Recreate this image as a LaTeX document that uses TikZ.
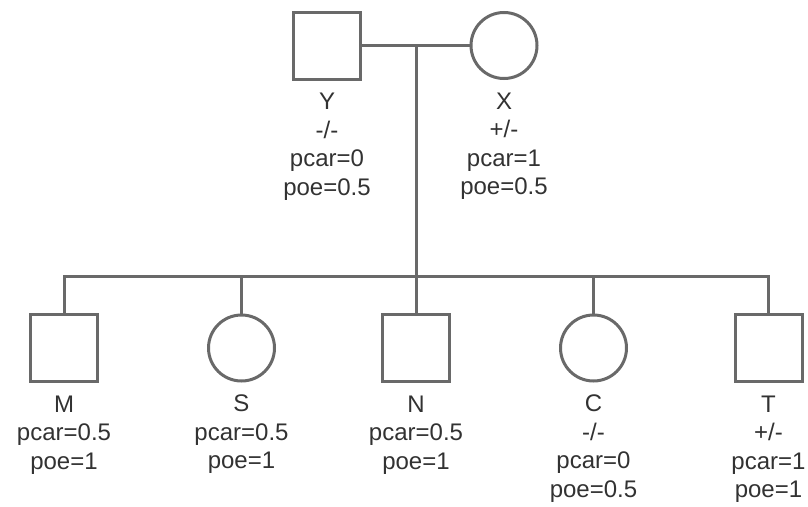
\documentclass[tikz,border=0pt]{standalone}
\usepackage{fontspec}
\setmainfont{Liberation Sans}
\definecolor{linec}{RGB}{105,105,105}
\definecolor{textc}{RGB}{50,50,50}
\begin{document}
\begin{tikzpicture}[x=1pt,y=-1pt,
  male/.style={rectangle,draw=linec,line width=3pt,minimum size=67pt,inner sep=0pt},
  female/.style={circle,draw=linec,line width=3pt,minimum size=66pt,inner sep=0pt},
  tag/.style={anchor=north,align=center,inner sep=0pt,text=textc,
    font=\fontsize{24}{28.5}\selectfont},
  link/.style={draw=linec,line width=3pt}]
\useasboundingbox (0,0) rectangle (808,506);

% parents
\node[male]   (Y) at (327,45.5) {};
\node[female] (X) at (504,45.5) {};
\node[tag] (Yt) at ([yshift=-12.5pt]Y.south) {Y\\-/-\\pcar=0\\poe=0.5};
\node[tag] (Xt) at ([yshift=-12.5pt]X.south) {X\\+/-\\pcar=1\\poe=0.5};

% children
\node[male]   (M) at (64,348) {};
\node[female] (S) at (241.5,348) {};
\node[male]   (N) at (416,348) {};
\node[female] (C) at (593.5,348) {};
\node[male]   (T) at (768.5,348) {};
\node[tag] (Mt) at ([yshift=-12.5pt]M.south) {M\\pcar=0.5\\poe=1};
\node[tag] (St) at ([yshift=-12.5pt]S.south) {S\\pcar=0.5\\poe=1};
\node[tag] (Nt) at ([yshift=-12.5pt]N.south) {N\\pcar=0.5\\poe=1};
\node[tag] (Ct) at ([yshift=-12.5pt]C.south) {C\\-/-\\pcar=0\\poe=0.5};
\node[tag] (Tt) at ([yshift=-12.5pt]T.south) {T\\+/-\\pcar=1\\poe=1};

% junction points
\coordinate (mid) at (416,46);
\coordinate (sib) at (416,276);
\coordinate (sibL) at (M.north |- sib);
\coordinate (sibR) at (T.north |- sib);

% connectors
\draw[link] (Y.east) -- (X.west);
\draw[link] (mid) -- (sib);
\draw[link,line cap=rect] (sibL) -- (sibR);
\draw[link] (sibL) -- (M.north);
\draw[link] (S.north |- sib) -- (S.north);
\draw[link] (sib) -- (N.north);
\draw[link] (C.north |- sib) -- (C.north);
\draw[link] (sibR) -- (T.north);
\end{tikzpicture}
\end{document}
